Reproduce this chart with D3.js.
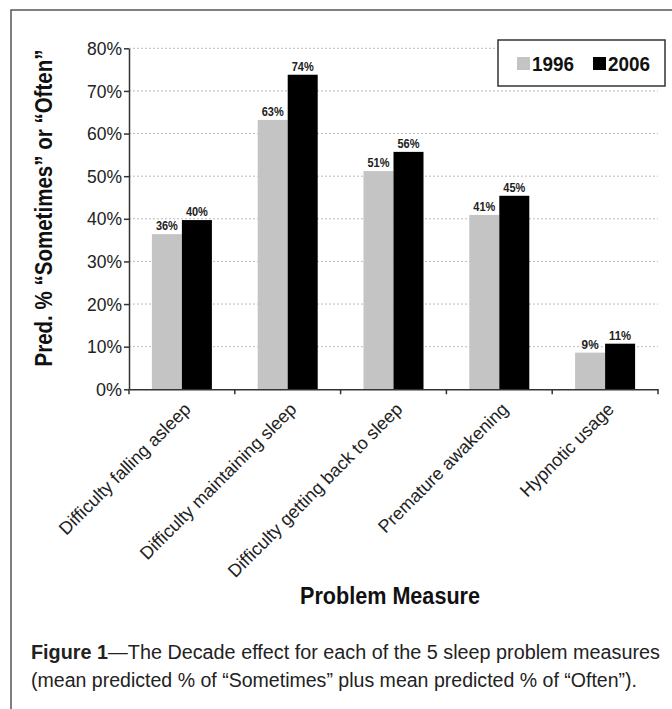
<!DOCTYPE html>
<html><head><meta charset="utf-8">
<script src="https://cdn.jsdelivr.net/npm/d3@7"></script>
<style>
html,body{margin:0;padding:0;background:#fff;}
svg{display:block;}
text{font-family:"Liberation Sans Narrow","Arial Narrow","Liberation Sans",Arial,sans-serif;}
</style></head>
<body>
<svg id="c" width="672" height="709"></svg>
<script>
const categories = ["Difficulty falling asleep","Difficulty maintaining sleep","Difficulty getting back to sleep","Premature awakening","Hypnotic usage"];
const seriesNames = ["1996","2006"];
const values1996 = [36.4, 63.2, 51.2, 40.9, 8.6];
const values2006 = [39.7, 73.8, 55.7, 45.4, 10.7];
const yTicks = [0,10,20,30,40,50,60,70,80];
const colors = ["#c4c4c4","#000000"];
const FONT = '"Liberation Sans Narrow","Arial Narrow","Liberation Sans",Arial,sans-serif';

const svg = d3.select("#c");
// outer frame
svg.append("rect").attr("x",11).attr("y",10).attr("width",680).attr("height",720)
  .attr("fill","none").attr("stroke","#555").attr("stroke-width",1.5);

const m = {left:129, right:658, top:48.3, bottom:389.3};
const x = d3.scaleBand().domain(categories).range([m.left,m.right]).paddingInner(0).paddingOuter(0);
const inner = d3.scaleBand().domain(seriesNames).range([0,x.bandwidth()]).paddingInner(0).paddingOuter(0.763);
const y = d3.scaleLinear().domain([0,80]).range([m.bottom,m.top]);

// gridlines
svg.append("g").selectAll("line").data(yTicks.filter(d=>d>0)).join("line")
  .attr("x1",m.left).attr("x2",m.right).attr("y1",d=>y(d)).attr("y2",d=>y(d))
  .attr("stroke","#bbb").attr("stroke-dasharray","2,2").attr("stroke-width",1);

// bars
const rows = categories.map((c,i)=>({c, v:[values1996[i],values2006[i]]}));
const g = svg.append("g");
rows.forEach(r=>{
  seriesNames.forEach((s,j)=>{
    const bx = x(r.c)+inner(s);
    g.append("rect").attr("x",bx).attr("y",y(r.v[j])).attr("width",inner.bandwidth())
      .attr("height",y(0)-y(r.v[j])).attr("fill",colors[j]);
    const lbl = Math.round(r.v[j])+"%";
    g.append("text").attr("x",bx+inner.bandwidth()/2).attr("y",y(r.v[j])-4)
      .attr("text-anchor","middle").attr("font-size",13).attr("font-weight","bold")
      .attr("textLength",lbl.length===2?17:22).attr("lengthAdjust","spacingAndGlyphs")
      .attr("fill","#222").text(lbl);
  });
});

// y axis
const ya = svg.append("g").attr("transform",`translate(${m.left},0)`)
  .call(d3.axisLeft(y).tickValues(yTicks).tickFormat(d=>d+"%").tickSize(5).tickSizeOuter(0));
ya.select(".domain").attr("stroke","#333").attr("stroke-width",1.5);
ya.selectAll(".tick line").attr("stroke","#333").attr("stroke-width",1.5);
ya.selectAll(".tick text").attr("font-size",19).attr("fill","#222").attr("x",-7)
  .style("font-family",FONT)
  .attr("textLength",d=>d===0?26:35).attr("lengthAdjust","spacingAndGlyphs");

// x axis
const xa = svg.append("g").attr("transform",`translate(0,${m.bottom})`)
  .call(d3.axisBottom(x).tickSize(0).tickSizeOuter(0));
xa.select(".domain").attr("stroke","#333").attr("stroke-width",1.5);
xa.selectAll(".tick text").attr("font-size",18).attr("fill","#222")
  .style("font-family",FONT)
  .attr("text-anchor","end").attr("dy",0).attr("y",0)
  .attr("transform","translate(10,21) rotate(-45)");
// boundary ticks
const bounds = categories.map(c=>x(c)).concat([m.right]);
svg.append("g").selectAll("line").data(bounds).join("line")
  .attr("x1",d=>d).attr("x2",d=>d).attr("y1",m.bottom).attr("y2",m.bottom+5)
  .attr("stroke","#333").attr("stroke-width",1.5);

// y title
svg.append("text").attr("transform",`translate(52,208) rotate(-90)`)
  .attr("text-anchor","middle").attr("font-size",23).attr("font-weight","bold").attr("fill","#111")
  .attr("textLength",317).attr("lengthAdjust","spacingAndGlyphs")
  .text("Pred. % \u201CSometimes\u201D or \u201COften\u201D");

// x title
svg.append("text").attr("x",390).attr("y",604).attr("text-anchor","middle")
  .attr("font-size",23).attr("font-weight","bold").attr("fill","#111")
  .attr("textLength",180).attr("lengthAdjust","spacingAndGlyphs").text("Problem Measure");

// legend
const lg = svg.append("g");
lg.append("rect").attr("x",498).attr("y",40).attr("width",167).attr("height",46)
  .attr("fill","#fff").attr("stroke","#333").attr("stroke-width",1.5);
const lx = [517,593];
seriesNames.forEach((s,i)=>{
  lg.append("rect").attr("x",lx[i]).attr("y",57).attr("width",13).attr("height",13).attr("fill",colors[i]);
  lg.append("text").attr("x",lx[i]+15).attr("y",71).attr("font-size",20).attr("font-weight","bold")
    .attr("textLength",42).attr("lengthAdjust","spacingAndGlyphs")
    .attr("fill","#111").text(s);
});

// caption
const cap = svg.append("text").attr("x",31).attr("y",659).attr("font-size",19.5).attr("fill","#222")
  .attr("textLength",629).attr("lengthAdjust","spacingAndGlyphs");
cap.append("tspan").attr("font-weight","bold").text("Figure 1");
cap.append("tspan").text("\u2014The Decade effect for each of the 5 sleep problem measures");
svg.append("text").attr("x",31).attr("y",687).attr("font-size",19.5).attr("fill","#222")
  .attr("textLength",606).attr("lengthAdjust","spacingAndGlyphs")
  .text("(mean predicted % of \u201CSometimes\u201D plus mean predicted % of \u201COften\u201D).");
</script>
</body></html>
